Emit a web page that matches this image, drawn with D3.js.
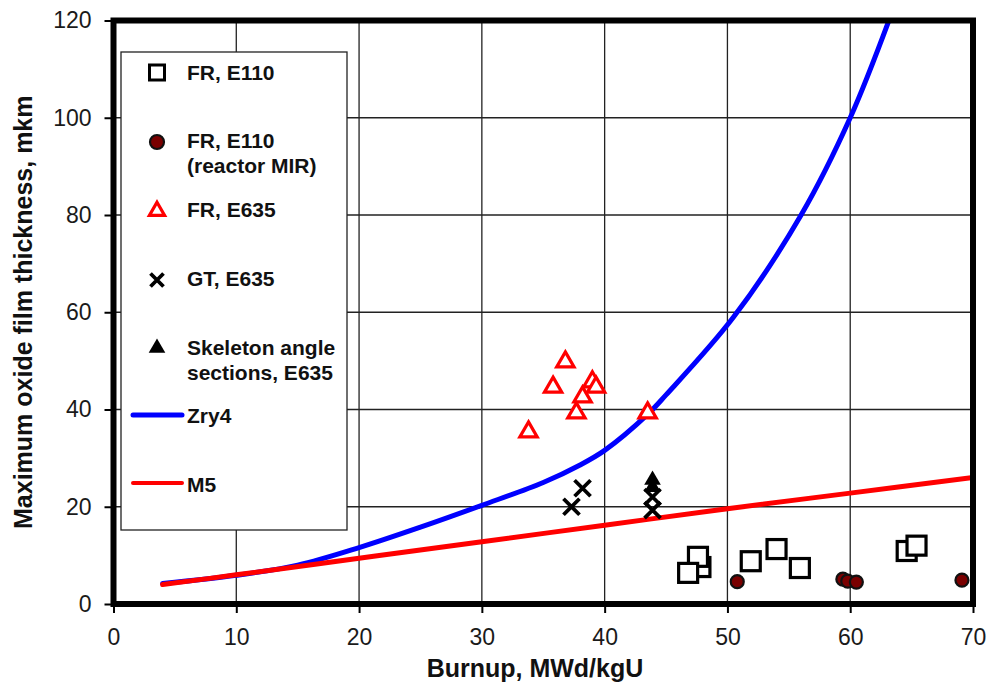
<!DOCTYPE html>
<html>
<head>
<meta charset="utf-8">
<script src="https://cdn.jsdelivr.net/npm/d3@7"></script>
<style>
  html, body { margin: 0; padding: 0; background: #fff; }
  svg { display: block; font-family: "Liberation Sans", Arial, sans-serif; }
</style>
</head>
<body>
<svg id="chart" width="990" height="683"></svg>
<script>
// ---- data ----
const xTicks = [0, 10, 20, 30, 40, 50, 60, 70];
const yTicks = [0, 20, 40, 60, 80, 100, 120];

const frE110 = [[47.8, 7.6], [47.6, 9.7], [46.8, 6.4], [51.9, 8.8], [54.0, 11.3], [55.9, 7.4], [64.6, 10.9], [65.4, 12.0]];
const frE110MIR = [[50.8, 4.6], [59.4, 5.1], [59.8, 4.7], [60.5, 4.5], [69.1, 4.9]];
const frE635 = [[33.8, 35.4], [35.8, 44.6], [36.8, 49.8], [37.7, 39.3], [38.2, 42.6], [39.0, 45.7], [39.3, 44.6], [43.5, 39.3]];
const gtE635 = [[37.3, 20.0], [38.2, 23.8], [43.9, 22.0], [43.9, 19.3]];
const skeletonE635 = [[43.9, 25.5], [43.9, 24.0]];

const zry4 = [[4, 4.2], [10, 5.9], [15, 8.0], [20, 11.6], [25, 15.8], [30, 20.3], [35, 25.0], [38, 28.6], [40, 31.6], [43.5, 39.0], [45, 43.0], [50.5, 59.0], [56, 80], [60, 100], [63.3, 121]];
const m5 = [[4, 4], [10, 6], [20, 9.4], [30, 12.8], [40, 16.2], [50, 19.6], [60, 22.8], [70, 26]];

const legendItems = ["FR, E110", "FR, E110|(reactor MIR)", "FR, E635", "GT, E635", "Skeleton angle|sections, E635", "Zry4", "M5"];
const xLabel = "Burnup, MWd/kgU";
const yLabel = "Maximum oxide film thickness, mkm";

// ---- layout ----
const svg = d3.select("#chart");
const L = 113.5, R = 973, T = 20.5, B = 604;
const x = d3.scaleLinear().domain([0, 70]).range([L, R]);
const y = d3.scaleLinear().domain([0, 120]).range([B, T]);

svg.append("defs").append("clipPath").attr("id", "plotClip")
  .append("rect").attr("x", L).attr("y", T).attr("width", R - L).attr("height", B - T);

// gridlines
const grid = svg.append("g");
grid.selectAll("line.vx").data(xTicks.filter(d => d > 0 && d < 70)).join("line")
  .attr("x1", d => x(d)).attr("x2", d => x(d)).attr("y1", T).attr("y2", B)
  .attr("stroke", "#222").attr("stroke-width", 1.3);
grid.selectAll("line.hy").data(yTicks.filter(d => d > 0 && d < 120)).join("line")
  .attr("x1", L).attr("x2", R).attr("y1", d => y(d)).attr("y2", d => y(d))
  .attr("stroke", "#222").attr("stroke-width", 1.3);

// axes
const xAxis = svg.append("g").attr("transform", `translate(0,${B})`)
  .call(d3.axisBottom(x).tickValues(xTicks).tickSize(9).tickPadding(16).tickFormat(d3.format("d")));
const yAxis = svg.append("g").attr("transform", `translate(${L},0)`)
  .call(d3.axisLeft(y).tickValues(yTicks).tickSize(9).tickPadding(13).tickFormat(d3.format("d")));
[xAxis, yAxis].forEach(a => {
  a.select(".domain").remove();
  a.selectAll(".tick line").attr("stroke", "#000").attr("stroke-width", 2);
  a.selectAll(".tick text").attr("font-size", 23).attr("fill", "#1a1a1a")
    .attr("font-family", '"Liberation Sans", Arial, sans-serif');
});

// curves
const line = d3.line().x(d => x(d[0])).y(d => y(d[1])).curve(d3.curveCatmullRom.alpha(0.5));
const curves = svg.append("g").attr("clip-path", "url(#plotClip)");
curves.append("path").datum(zry4).attr("d", line).attr("fill", "none")
  .attr("stroke", "#0000ff").attr("stroke-width", 5).attr("stroke-linecap", "round");
curves.append("path").datum(m5).attr("d", line).attr("fill", "none")
  .attr("stroke", "#ff0000").attr("stroke-width", 5).attr("stroke-linecap", "round");

// markers
const pts = svg.append("g");
const sq = 19;
pts.selectAll("rect.sq").data(frE110).join("rect")
  .attr("x", d => x(d[0]) - sq / 2).attr("y", d => y(d[1]) - sq / 2)
  .attr("width", sq).attr("height", sq)
  .attr("fill", "#fff").attr("stroke", "#000").attr("stroke-width", 3.2);
pts.selectAll("circle.mir").data(frE110MIR).join("circle")
  .attr("cx", d => x(d[0])).attr("cy", d => y(d[1])).attr("r", 6.5)
  .attr("fill", "#7a0000").attr("stroke", "#111").attr("stroke-width", 2.2);
const tri = d3.symbol(d3.symbolTriangle, 130);
pts.selectAll("path.tr").data(frE635).join("path")
  .attr("d", tri).attr("transform", d => `translate(${x(d[0])},${y(d[1])})`)
  .attr("fill", "#fff").attr("stroke", "#ff0000").attr("stroke-width", 3.2).attr("stroke-linejoin", "miter");
const xs = 8;
gtE635.forEach(d => {
  const cx = x(d[0]), cy = y(d[1]);
  pts.append("path").attr("d", `M${cx - xs},${cy - xs}L${cx + xs},${cy + xs}M${cx - xs},${cy + xs}L${cx + xs},${cy - xs}`)
    .attr("stroke", "#000").attr("stroke-width", 3.8).attr("fill", "none");
});
const triB = d3.symbol(d3.symbolTriangle, 120);
pts.selectAll("path.sk").data(skeletonE635).join("path")
  .attr("d", triB).attr("transform", d => `translate(${x(d[0])},${y(d[1])})`)
  .attr("fill", "#000");

// plot frame
svg.append("rect").attr("x", L).attr("y", T).attr("width", R - L).attr("height", B - T)
  .attr("fill", "none").attr("stroke", "#000").attr("stroke-width", 6);

// legend
const lg = svg.append("g");
lg.append("rect").attr("x", 121).attr("y", 52).attr("width", 226).attr("height", 478)
  .attr("fill", "#fff").attr("stroke", "#222").attr("stroke-width", 1.3);
const symX = 157, textX = 187;
const rows = [
  { cy: 72.5, base: [80] },
  { cy: 142, base: [148, 173] },
  { cy: 211, base: [217] },
  { cy: 280, base: [286] },
  { cy: 348, base: [355, 380] },
  { cy: 415, base: [423] },
  { cy: 483, base: [492] }
];
legendItems.forEach((txt, i) => {
  const parts = txt.split("|");
  parts.forEach((p, j) => {
    lg.append("text").attr("x", textX).attr("y", rows[i].base[j]).text(p)
      .attr("font-size", 21).attr("font-weight", "bold").attr("fill", "#111");
  });
});
const ls = 15;
lg.append("rect").attr("x", symX - ls / 2).attr("y", rows[0].cy - ls / 2).attr("width", ls).attr("height", ls)
  .attr("fill", "#fff").attr("stroke", "#000").attr("stroke-width", 3);
lg.append("circle").attr("cx", symX).attr("cy", rows[1].cy).attr("r", 7)
  .attr("fill", "#7a0000").attr("stroke", "#111").attr("stroke-width", 2.2);
lg.append("path").attr("d", d3.symbol(d3.symbolTriangle, 100)).attr("transform", `translate(${symX},${rows[2].cy})`)
  .attr("fill", "#fff").attr("stroke", "#ff0000").attr("stroke-width", 3.2);
lg.append("path").attr("d", `M${symX - 6.5},${rows[3].cy - 6.5}L${symX + 6.5},${rows[3].cy + 6.5}M${symX - 6.5},${rows[3].cy + 6.5}L${symX + 6.5},${rows[3].cy - 6.5}`)
  .attr("stroke", "#000").attr("stroke-width", 3.8);
lg.append("path").attr("d", d3.symbol(d3.symbolTriangle, 120)).attr("transform", `translate(${symX},${rows[4].cy})`)
  .attr("fill", "#000");
lg.append("line").attr("x1", 133).attr("x2", 182).attr("y1", rows[5].cy).attr("y2", rows[5].cy)
  .attr("stroke", "#0000ff").attr("stroke-width", 5).attr("stroke-linecap", "round");
lg.append("line").attr("x1", 133).attr("x2", 182).attr("y1", rows[6].cy).attr("y2", rows[6].cy)
  .attr("stroke", "#ff0000").attr("stroke-width", 4).attr("stroke-linecap", "round");

// axis titles
svg.append("text").attr("x", 535).attr("y", 677).attr("text-anchor", "middle")
  .attr("font-size", 25).attr("font-weight", "bold").attr("fill", "#111").text(xLabel);
svg.append("text").attr("transform", `translate(32,${(T + B) / 2}) rotate(-90)`).attr("text-anchor", "middle")
  .attr("font-size", 25).attr("font-weight", "bold").attr("fill", "#111").text(yLabel);
</script>
</body>
</html>
